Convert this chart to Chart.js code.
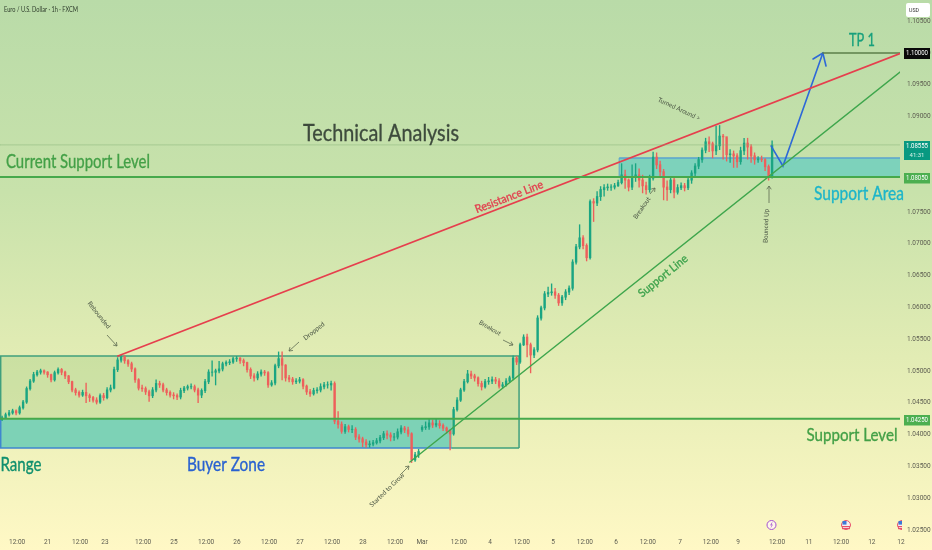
<!DOCTYPE html>
<html>
<head>
<meta charset="utf-8">
<title>Euro / U.S. Dollar</title>
<script src="https://cdn.jsdelivr.net/npm/chart.js@4"></script>
<style>
  body { margin: 0; background: #fff; }
  canvas { display: block; background: linear-gradient(180deg, #b9dba8 0%, #c8e2ab 35%, #e2ecb4 65%, #fff8c5 100%); }
</style>
</head>
<body>
<canvas id="chart" width="932" height="550"></canvas>
<script>
// hourly candles, one row = 10 candles
var closes = [
  1.0426,1.0431,1.0434,1.0437,1.0434,1.0442,1.0451,1.0472,1.0484,1.0494,
  1.0498,1.0500,1.0498,1.0494,1.0486,1.0497,1.0502,1.0498,1.0492,1.0483,
  1.0470,1.0466,1.0462,1.0466,1.0461,1.0458,1.0454,1.0451,1.0461,1.0458,
  1.0470,1.0473,1.0502,1.0517,1.0522,1.0516,1.0511,1.0503,1.0486,1.0473,
  1.0472,1.0467,1.0461,1.0470,1.0480,1.0478,1.0470,1.0466,1.0462,1.0461,
  1.0459,1.0469,1.0473,1.0475,1.0475,1.0470,1.0462,1.0469,1.0483,1.0498,
  1.0498,1.0500,1.0503,1.0511,1.0513,1.0514,1.0519,1.0520,1.0516,1.0513,
  1.0502,1.0492,1.0489,1.0495,1.0498,1.0497,1.0478,1.0481,1.0508,1.0519,
  1.0509,1.0489,1.0487,1.0483,1.0484,1.0486,1.0476,1.0467,1.0464,1.0469,
  1.0470,1.0475,1.0478,1.0478,1.0480,1.0421,1.0416,1.0405,1.0412,1.0408,
  1.0408,1.0396,1.0393,1.0388,1.0384,1.0385,1.0387,1.0390,1.0395,1.0401,
  1.0399,1.0396,1.0396,1.0404,1.0410,1.0407,1.0401,1.0360,1.0368,1.0373,
  1.0411,1.0412,1.0418,1.0415,1.0417,1.0414,1.0410,1.0406,1.0401,1.0439,
  1.0454,1.0470,1.0483,1.0495,1.0492,1.0489,1.0480,1.0475,1.0483,1.0484,
  1.0486,1.0484,1.0476,1.0478,1.0484,1.0489,1.0520,1.0514,1.0541,1.0553,
  1.0541,1.0525,1.0533,1.0583,1.0599,1.0621,1.0623,1.0624,1.0619,1.0607,
  1.0616,1.0624,1.0630,1.0671,1.0695,1.0709,1.0697,1.0678,1.0766,1.0764,
  1.0774,1.0785,1.0788,1.0789,1.0789,1.0791,1.0796,1.0808,1.0800,1.0789,
  1.0805,1.0808,1.0800,1.0791,1.0785,1.0803,1.0836,1.0824,1.0813,1.0789,
  1.0785,1.0800,1.0781,1.0788,1.0791,1.0788,1.0800,1.0811,1.0822,1.0832,
  1.0847,1.0860,1.0857,1.0846,1.0854,1.0869,1.0868,1.0840,1.0841,1.0838,
  1.0829,1.0846,1.0858,1.0852,1.0838,1.0832,1.0833,1.0832,1.0821,1.0807,1.0855
];
var highs = [
  1.0429,1.0434,1.0438,1.0440,1.0439,1.0445,1.0454,1.0475,1.0487,1.0498,
  1.0501,1.0503,1.0502,1.0499,1.0495,1.0500,1.0505,1.0504,1.0500,1.0493,
  1.0484,1.0473,1.0469,1.0470,1.0481,1.0464,1.0460,1.0458,1.0464,1.0465,
  1.0474,1.0478,1.0506,1.0521,1.0525,1.0524,1.0518,1.0514,1.0505,1.0488,
  1.0478,1.0475,1.0470,1.0474,1.0486,1.0484,1.0481,1.0473,1.0469,1.0466,
  1.0464,1.0473,1.0476,1.0478,1.0480,1.0478,1.0473,1.0472,1.0487,1.0502,
  1.0516,1.0503,1.0515,1.0514,1.0516,1.0518,1.0522,1.0523,1.0521,1.0519,
  1.0514,1.0505,1.0496,1.0499,1.0502,1.0501,1.0499,1.0485,1.0511,1.0530,
  1.0530,1.0510,1.0493,1.0490,1.0488,1.0490,1.0488,1.0478,1.0471,1.0473,
  1.0474,1.0480,1.0482,1.0483,1.0484,1.0483,1.0436,1.0420,1.0416,1.0415,
  1.0414,1.0411,1.0400,1.0396,1.0392,1.0390,1.0391,1.0394,1.0399,1.0405,
  1.0406,1.0403,1.0402,1.0409,1.0414,1.0413,1.0412,1.0403,1.0372,1.0377,
  1.0414,1.0420,1.0424,1.0423,1.0425,1.0422,1.0417,1.0412,1.0408,1.0443,
  1.0458,1.0473,1.0487,1.0501,1.0500,1.0495,1.0491,1.0484,1.0487,1.0490,
  1.0491,1.0490,1.0488,1.0482,1.0488,1.0492,1.0524,1.0523,1.0544,1.0557,
  1.0558,1.0544,1.0537,1.0587,1.0602,1.0625,1.0632,1.0637,1.0630,1.0622,
  1.0619,1.0628,1.0634,1.0675,1.0699,1.0730,1.0713,1.0700,1.0769,1.0771,
  1.0782,1.0790,1.0793,1.0794,1.0793,1.0795,1.0800,1.0826,1.0816,1.0802,
  1.0824,1.0826,1.0818,1.0808,1.0797,1.0808,1.0844,1.0843,1.0830,1.0817,
  1.0799,1.0806,1.0804,1.0793,1.0796,1.0795,1.0804,1.0815,1.0826,1.0836,
  1.0851,1.0866,1.0868,1.0860,1.0885,1.0886,1.0872,1.0866,1.0848,1.0846,
  1.0842,1.0852,1.0866,1.0866,1.0856,1.0843,1.0837,1.0838,1.0834,1.0824,1.0862
];
var lows = [
  1.0422,1.0426,1.0429,1.0432,1.0431,1.0432,1.0440,1.0449,1.0470,1.0482,
  1.0492,1.0495,1.0495,1.0490,1.0483,1.0484,1.0495,1.0494,1.0488,1.0480,
  1.0467,1.0462,1.0459,1.0460,1.0450,1.0452,1.0451,1.0448,1.0449,1.0454,
  1.0456,1.0467,1.0472,1.0499,1.0514,1.0512,1.0507,1.0499,1.0482,1.0470,
  1.0468,1.0463,1.0452,1.0458,1.0467,1.0474,1.0467,1.0462,1.0459,1.0456,
  1.0455,1.0456,1.0466,1.0470,1.0472,1.0467,1.0450,1.0458,1.0466,1.0480,
  1.0492,1.0478,1.0497,1.0500,1.0508,1.0510,1.0512,1.0515,1.0512,1.0508,
  1.0498,1.0488,1.0484,1.0486,1.0492,1.0493,1.0474,1.0476,1.0478,1.0505,
  1.0486,1.0484,1.0483,1.0479,1.0480,1.0481,1.0472,1.0463,1.0460,1.0462,
  1.0465,1.0467,1.0472,1.0473,1.0470,1.0417,1.0410,1.0402,1.0402,1.0404,
  1.0403,1.0392,1.0388,1.0381,1.0380,1.0380,1.0382,1.0385,1.0387,1.0392,
  1.0393,1.0390,1.0391,1.0393,1.0401,1.0403,1.0397,1.0356,1.0358,1.0364,
  1.0405,1.0408,1.0408,1.0411,1.0412,1.0410,1.0406,1.0402,1.0376,1.0399,
  1.0437,1.0452,1.0468,1.0481,1.0488,1.0484,1.0476,1.0470,1.0473,1.0479,
  1.0480,1.0480,1.0473,1.0473,1.0476,1.0482,1.0486,1.0510,1.0512,1.0540,
  1.0522,1.0497,1.0521,1.0530,1.0580,1.0596,1.0617,1.0619,1.0614,1.0603,
  1.0603,1.0612,1.0620,1.0627,1.0668,1.0692,1.0692,1.0673,1.0676,1.0735,
  1.0760,1.0768,1.0775,1.0784,1.0784,1.0786,1.0790,1.0794,1.0787,1.0783,
  1.0785,1.0798,1.0789,1.0780,1.0778,1.0781,1.0800,1.0818,1.0807,1.0769,
  1.0768,1.0780,1.0772,1.0778,1.0785,1.0783,1.0785,1.0795,1.0807,1.0818,
  1.0828,1.0843,1.0845,1.0835,1.0840,1.0848,1.0833,1.0830,1.0828,1.0820,
  1.0820,1.0825,1.0840,1.0833,1.0828,1.0825,1.0828,1.0829,1.0815,1.0800,1.0803
];
var firstOpen = 1.0424;
var mondayOpen = 1.0408;   // candle 120 opens after the weekend gap
var mondayIndex = 120;

var yTicks = [1.105, 1.10, 1.095, 1.09, 1.075, 1.07, 1.065, 1.06, 1.055, 1.05, 1.045, 1.04, 1.035, 1.03, 1.025];
var xTickLabels = ['12:00','21','12:00','23','12:00','25','12:00','26','12:00','27','12:00','28','12:00','Mar',
  '12:00','4','12:00','5','12:00','6','12:00','7','12:00','9','12:00','11','12:00','12','12'];
var xTickBars = [4.9,13.6,22.9,30,40.9,49.7,58.9,67.7,76.9,85.7,94.9,103.7,112.9,120.6,131.1,140,149.1,158,167.1,176,185.1,194.3,203.1,210.9,222,231.1,240.3,249.1,257.4];

// drawn levels and trend lines, in candle index / price
var resistanceLine = [{x: 33.7, y: 1.05236}, {x: 257.14, y: 1.09990}];
var supportLine = [{x: 117.1, y: 1.03569}, {x: 257.14, y: 1.09700}];
var upperLevel = 1.0805;
var lowerLevel = 1.0425;
var lastPrice = 1.08555;
var targetLine = [{x: 235.1, y: 1.1}, {x: 257.14, y: 1.1}];
var projection = [{x: 220.3, y: 1.08538}, {x: 223.7, y: 1.08223}, {x: 235.1, y: 1.1}];
var arrowHead = [{x: 232.3, y: 1.09906}, {x: 235.1, y: 1.1}, {x: 236, y: 1.09796}];

var rangeBox = {x0: 0, x1: 148.3, top: 1.05236, bottom: 1.03789};
var buyerBox = {x0: 0, x1: 129.1, top: 1.0425, bottom: 1.03789};
var areaBox = {x0: 176.9, x1: 257.14, top: 1.0835, bottom: 1.0805};

var UP = '#1aa582', DOWN = '#ee5f5b';
var bodies = [], wicks = [], bodyColors = [];
closes.forEach(function (c, i) {
  var o = i === 0 ? firstOpen : (i === mondayIndex ? mondayOpen : closes[i - 1]);
  bodies.push({x: i + 0.6, y: [Math.min(o, c), Math.max(o, c) + 0.00004]});
  wicks.push({x: i + 0.6, y: [lows[i], highs[i]]});
  bodyColors.push(c >= o ? UP : DOWN);
});

function levelLine(price) {
  return [{x: 0, y: price}, {x: 257.14, y: price}];
}
function lineSet(data, color, width) {
  return {type: 'line', data: data, borderColor: color, borderWidth: width, pointRadius: 0, tension: 0, order: 0, borderCapStyle: 'round'};
}
// tick labels overhang the plot, keep the plot flush with the canvas edges anyway
function noPadding(axis) {
  axis.paddingLeft = axis.paddingRight = axis.paddingTop = axis.paddingBottom = 0;
}

function box(ctx, chart, b, fill) {
  var x = chart.scales.x, y = chart.scales.y;
  ctx.fillStyle = fill;
  ctx.fillRect(x.getPixelForValue(b.x0), y.getPixelForValue(b.top),
    x.getPixelForValue(b.x1) - x.getPixelForValue(b.x0), y.getPixelForValue(b.bottom) - y.getPixelForValue(b.top));
}
function edge(ctx, chart, x0, p0, x1, p1, color, width) {
  var x = chart.scales.x, y = chart.scales.y;
  ctx.strokeStyle = color;
  ctx.lineWidth = width;
  ctx.beginPath();
  ctx.moveTo(x.getPixelForValue(x0), y.getPixelForValue(p0));
  ctx.lineTo(x.getPixelForValue(x1), y.getPixelForValue(p1));
  ctx.stroke();
}
function text(ctx, s, x, y, size, color, angle, maxW, family) {
  ctx.save();
  ctx.translate(x, y);
  ctx.rotate((angle || 0) * Math.PI / 180);
  ctx.font = size + 'px ' + (family || 'Lato');
  ctx.fillStyle = color;
  ctx.textAlign = 'center';
  ctx.textBaseline = 'middle';
  if (maxW) ctx.fillText(s, 0, 0, maxW); else ctx.fillText(s, 0, 0);
  // the big labels are a little heavier than Lato regular
  if (size >= 11) {
    ctx.strokeStyle = color;
    ctx.lineWidth = 0.35;
    ctx.strokeText(s, 0, 0, maxW);
  }
  ctx.restore();
}
function priceTag(ctx, s, top, h, fill) {
  ctx.fillStyle = fill;
  ctx.fillRect(904, top, 26, h);
  text(ctx, s, 917, top + 5.5, 6.5, '#fff', 0, 22, 'Roboto');
}
function pointer(ctx, x0, y0, x1, y1) {
  var a = Math.atan2(y1 - y0, x1 - x0);
  ctx.strokeStyle = '#5d6b50';
  ctx.lineWidth = 0.8;
  ctx.beginPath();
  ctx.moveTo(x0, y0);
  ctx.lineTo(x1, y1);
  ctx.moveTo(x1 - 4 * Math.cos(a - 0.6), y1 - 4 * Math.sin(a - 0.6));
  ctx.lineTo(x1, y1);
  ctx.lineTo(x1 - 4 * Math.cos(a + 0.6), y1 - 4 * Math.sin(a + 0.6));
  ctx.stroke();
}

var overlays = {
  id: 'overlays',
  beforeDatasetsDraw: function (chart) {
    var ctx = chart.ctx;
    ctx.save();
    box(ctx, chart, rangeBox, 'rgba(120,180,100,0.22)');
    box(ctx, chart, buyerBox, '#7dd2b6');
    box(ctx, chart, areaBox, '#7dd2bb');
    var g = '#3f9f7d', b = '#3f86cf';
    edge(ctx, chart, rangeBox.x0, rangeBox.top, rangeBox.x1, rangeBox.top, g, 1.5);
    edge(ctx, chart, rangeBox.x1, rangeBox.top, rangeBox.x1, rangeBox.bottom, g, 1.5);
    edge(ctx, chart, buyerBox.x1, rangeBox.bottom, rangeBox.x1, rangeBox.bottom, g, 1.5);
    edge(ctx, chart, 0.2, rangeBox.top, 0.2, lowerLevel, g, 1.5);
    edge(ctx, chart, 0.2, lowerLevel, 0.2, buyerBox.bottom, b, 1.5);
    edge(ctx, chart, buyerBox.x0, buyerBox.bottom, buyerBox.x1, buyerBox.bottom, b, 1.5);
    edge(ctx, chart, areaBox.x0, areaBox.top, areaBox.x1, areaBox.top, '#5ba3cf', 1.5);
    edge(ctx, chart, areaBox.x0, areaBox.top, areaBox.x0, areaBox.bottom, '#5ba3cf', 1);
    ctx.restore();
  },
  afterDraw: function (chart) {
    var ctx = chart.ctx;
    ctx.save();
    text(ctx, 'Euro / U.S. Dollar · 1h · FXCM', 41, 9.5, 6.8, '#2f3d2c', 0, 74);
    text(ctx, 'Technical Analysis', 381, 134, 23, '#3e4b3d', 0, 156);
    text(ctx, 'Current Support Level', 78, 162, 19, '#43a047', 0, 144);
    text(ctx, 'Support Area', 859, 194, 19, '#1db5c9', 0, 90);
    text(ctx, 'Support Level', 852, 436, 17, '#43a047', 0, 91);
    text(ctx, 'TP 1', 862, 41, 17, '#17a07c', 0, 26);
    text(ctx, 'Range', 21, 465, 19, '#0f8f6e', 0, 41);
    text(ctx, 'Buyer Zone', 226, 465, 19, '#2962d0', 0, 78);
    text(ctx, 'Resistance Line', 509, 197, 11.5, '#e2404f', -21, 72);
    text(ctx, 'Support Line', 663, 276, 11.5, '#3fa34d', -39, 60);
    text(ctx, 'Rebounded', 99, 315, 6.5, '#4a5544', 52, 33);
    text(ctx, 'Dropped', 314, 331, 6.5, '#4a5544', -38, 26);
    text(ctx, 'Breakout', 490, 328, 6.5, '#4a5544', 30, 24);
    text(ctx, 'Started to Grow', 387, 490, 6.5, '#4a5544', -44, 50);
    text(ctx, 'Breakout', 642, 208, 6.5, '#4a5544', -55, 25);
    text(ctx, 'Bounced Up', 766, 226, 6.5, '#4a5544', -88, 34);
    text(ctx, 'Turned Around >', 679, 109, 6.5, '#4a5544', 25, 46);
    pointer(ctx, 107, 335, 117, 346);
    pointer(ctx, 299, 342, 289, 351);
    pointer(ctx, 503, 340, 513, 345);
    pointer(ctx, 400, 475, 409, 466);
    pointer(ctx, 650, 194, 655, 188);
    pointer(ctx, 769, 203, 769, 186);

    priceTag(ctx, '1.10000', 48, 11, '#0a0a0a');
    ctx.fillStyle = '#089981';
    ctx.fillRect(904, 141, 26, 19);
    text(ctx, '1.08555', 917, 146, 6.5, '#fff', 0, 22, 'Roboto');
    text(ctx, '41:31', 917, 155, 6, '#d5f2e8', 0, 16, 'Roboto');
    priceTag(ctx, '1.08050', 173, 10.5, '#4caf50');
    priceTag(ctx, '1.04250', 415, 10.5, '#4caf50');

    ctx.fillStyle = '#fff';
    ctx.beginPath();
    ctx.roundRect(906, 3, 24, 14, 2);
    ctx.fill();
    text(ctx, 'USD', 914, 10, 6, '#333', 0, 10, 'Roboto');

    // event markers above the time axis
    ctx.lineWidth = 1;
    ctx.strokeStyle = '#a34fd0';
    ctx.fillStyle = '#fff8e8';
    ctx.beginPath(); ctx.arc(771.5, 525, 4.5, 0, 7); ctx.fill(); ctx.stroke();
    ctx.fillStyle = '#a34fd0';
    ctx.beginPath(); ctx.moveTo(772.5, 521.5); ctx.lineTo(770, 525.5); ctx.lineTo(773, 524.5); ctx.lineTo(770.5, 528.5); ctx.lineTo(771.5, 525.5); ctx.fill();
    [846, 902].forEach(function (cx) {
      ctx.save();
      ctx.beginPath();
      ctx.rect(cx - 6, 518, cx > 900 ? 6 : 12, 14);
      ctx.clip();
      ctx.strokeStyle = '#e7506a';
      ctx.fillStyle = '#f5f0f0';
      ctx.beginPath(); ctx.arc(cx, 525, 4.5, 0, 7); ctx.fill(); ctx.stroke();
      ctx.fillStyle = '#e7506a';
      ctx.fillRect(cx - 4, 526, 8, 1.2);
      ctx.fillRect(cx - 4, 528, 8, 1.2);
      ctx.fillStyle = '#3b78d8';
      ctx.fillRect(cx - 3.5, 521, 4, 3.6);
      ctx.restore();
    });
    ctx.restore();
  }
};

new Chart(document.getElementById('chart'), {
  type: 'bar',
  data: {
    datasets: [
      lineSet(levelLine(lastPrice), 'rgba(120,170,110,0.4)', 1),
      lineSet(levelLine(upperLevel), '#46a94b', 2),
      lineSet(levelLine(lowerLevel), '#46a94b', 2),
      lineSet(resistanceLine, '#e63f4d', 1.8),
      lineSet(supportLine, '#3ea64c', 1.4),
      lineSet(targetLine, '#5c7f4a', 1.3),
      lineSet(projection, '#2d68d8', 1.6),
      lineSet(arrowHead, '#2d68d8', 1.6),
      {type: 'bar', data: wicks, backgroundColor: bodyColors, barThickness: 0.7, grouped: false, order: 2, animation: false},
      {type: 'bar', data: bodies, backgroundColor: bodyColors, barThickness: 1.7, grouped: false, order: 1, animation: false}
    ]
  },
  options: {
    responsive: false,
    animation: false,
    layout: {padding: 0},
    plugins: {legend: {display: false}, tooltip: {enabled: false}},
    scales: {
      x: {
        type: 'linear', min: 0, max: 257.14, offset: false,
        grid: {display: false, drawTicks: false}, border: {display: false},
        afterFit: function (axis) { axis.height = 16; noPadding(axis); },
        afterBuildTicks: function (axis) {
          axis.ticks = xTickBars.map(function (v) { return {value: v}; });
        },
        ticks: {
          autoSkip: false, maxRotation: 0, minRotation: 0, padding: 4,
          color: '#5c5c50', font: {family: 'Roboto', size: 6.5},
          callback: function (v, i) { return xTickLabels[i]; }
        }
      },
      y: {
        position: 'right', min: 1.02437, max: 1.10833,
        grid: {display: false, drawTicks: false}, border: {display: false},
        afterFit: function (axis) { axis.width = 32; noPadding(axis); },
        afterBuildTicks: function (axis) {
          axis.ticks = yTicks.map(function (v) { return {value: v}; });
        },
        ticks: {
          autoSkip: false, padding: 7,
          color: '#5c5c50', font: {family: 'Roboto', size: 6.5},
          callback: function (v) { return v.toFixed(5); }
        }
      }
    }
  },
  plugins: [overlays]
});
</script>
</body>
</html>
